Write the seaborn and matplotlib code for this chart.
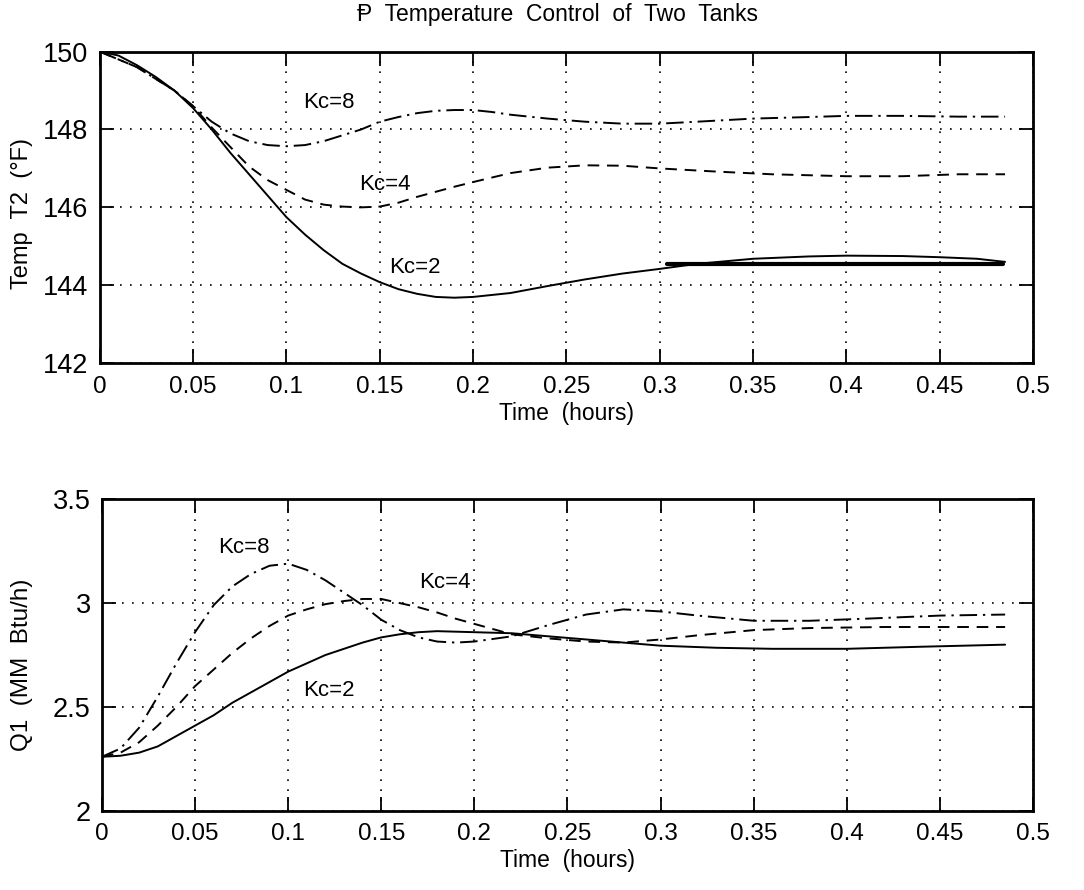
import numpy as np
import pandas as pd
import matplotlib
matplotlib.use("Agg")
import matplotlib.pyplot as plt
import seaborn as sns

# ---- data ----
# top panel: Temp T2 (F) vs time (hours)
t2_kc2_t = [0, 0.01, 0.02, 0.03, 0.04, 0.05, 0.06, 0.07, 0.08, 0.09, 0.10, 0.11, 0.12, 0.13,
            0.14, 0.15, 0.16, 0.17, 0.18, 0.19, 0.20, 0.22, 0.24, 0.26, 0.28, 0.30, 0.32,
            0.35, 0.38, 0.40, 0.43, 0.45, 0.47, 0.485]
t2_kc2 = [150.0, 149.9, 149.65, 149.35, 149.0, 148.55, 148.0, 147.4, 146.85, 146.3, 145.75,
          145.3, 144.9, 144.55, 144.3, 144.08, 143.9, 143.78, 143.7, 143.68, 143.7, 143.8,
          143.98, 144.15, 144.3, 144.42, 144.55, 144.68, 144.74, 144.76, 144.75, 144.72,
          144.68, 144.6]

t2_kc4_t = [0, 0.02, 0.04, 0.05, 0.06, 0.07, 0.08, 0.09, 0.10, 0.11, 0.12, 0.13, 0.14, 0.15,
            0.16, 0.17, 0.18, 0.19, 0.20, 0.22, 0.24, 0.26, 0.28, 0.30, 0.33, 0.36, 0.40,
            0.43, 0.46, 0.485]
t2_kc4 = [150.0, 149.6, 149.0, 148.6, 148.05, 147.55, 147.05, 146.7, 146.45, 146.2, 146.07,
          146.02, 146.0, 146.02, 146.12, 146.27, 146.4, 146.53, 146.65, 146.88, 147.02,
          147.08, 147.07, 147.0, 146.92, 146.85, 146.8, 146.8, 146.85, 146.85]

t2_kc8_t = [0, 0.02, 0.04, 0.05, 0.06, 0.07, 0.08, 0.09, 0.10, 0.11, 0.12, 0.13, 0.14, 0.15,
            0.16, 0.17, 0.18, 0.19, 0.20, 0.21, 0.22, 0.24, 0.26, 0.28, 0.30, 0.32, 0.35,
            0.38, 0.40, 0.43, 0.46, 0.485]
t2_kc8 = [150.0, 149.6, 149.0, 148.6, 148.2, 147.9, 147.7, 147.6, 147.57, 147.6, 147.7,
          147.85, 148.0, 148.2, 148.32, 148.42, 148.48, 148.5, 148.5, 148.45, 148.38,
          148.28, 148.2, 148.15, 148.15, 148.2, 148.28, 148.32, 148.35, 148.35, 148.33,
          148.33]

# stray straight strokes visible in the scan
t2_top_stroke_t = [0, 0.174]
t2_top_stroke = [150.0, 150.0]
t2_ss_stroke_t = [0.304, 0.484]
t2_ss_stroke = [144.55, 144.55]

# bottom panel: Q1 (MM Btu/h) vs time (hours)
q1_kc2_t = [0, 0.01, 0.02, 0.03, 0.04, 0.05, 0.06, 0.07, 0.08, 0.09, 0.10, 0.11, 0.12, 0.13,
            0.14, 0.15, 0.16, 0.17, 0.18, 0.20, 0.22, 0.24, 0.26, 0.28, 0.30, 0.33, 0.36,
            0.40, 0.44, 0.485]
q1_kc2 = [2.26, 2.265, 2.28, 2.31, 2.36, 2.41, 2.46, 2.52, 2.57, 2.62, 2.67, 2.71, 2.75,
          2.78, 2.81, 2.835, 2.85, 2.86, 2.865, 2.86, 2.855, 2.84, 2.825, 2.81, 2.795,
          2.785, 2.78, 2.78, 2.79, 2.80]

q1_kc4_t = [0, 0.01, 0.02, 0.03, 0.04, 0.05, 0.06, 0.07, 0.08, 0.09, 0.10, 0.11, 0.12, 0.13,
            0.14, 0.15, 0.16, 0.17, 0.18, 0.19, 0.20, 0.21, 0.22, 0.24, 0.26, 0.28, 0.30,
            0.32, 0.35, 0.38, 0.42, 0.485]
q1_kc4 = [2.26, 2.28, 2.33, 2.41, 2.5, 2.6, 2.68, 2.76, 2.83, 2.89, 2.94, 2.97, 2.995, 3.01,
          3.02, 3.02, 3.0, 2.98, 2.955, 2.925, 2.9, 2.875, 2.85, 2.83, 2.815, 2.81, 2.825,
          2.845, 2.87, 2.88, 2.885, 2.885]

q1_kc8_t = [0, 0.01, 0.02, 0.03, 0.04, 0.05, 0.06, 0.07, 0.08, 0.09, 0.10, 0.11, 0.12, 0.13,
            0.14, 0.15, 0.16, 0.17, 0.18, 0.19, 0.20, 0.22, 0.24, 0.26, 0.28, 0.30, 0.32,
            0.35, 0.38, 0.41, 0.45, 0.485]
q1_kc8 = [2.26, 2.3, 2.4, 2.55, 2.71, 2.86, 2.99, 3.08, 3.14, 3.18, 3.19, 3.16, 3.11, 3.05,
          2.99, 2.92, 2.87, 2.835, 2.815, 2.81, 2.815, 2.84, 2.895, 2.945, 2.97, 2.96, 2.94,
          2.915, 2.915, 2.925, 2.94, 2.945]

x_ticks = [0, 0.05, 0.1, 0.15, 0.2, 0.25, 0.3, 0.35, 0.4, 0.45, 0.5]
x_ticklabels = ["0", "0.05", "0.1", "0.15", "0.2", "0.25", "0.3", "0.35", "0.4", "0.45", "0.5"]
t2_ticks = [142, 144, 146, 148, 150]
q1_ticks = [2, 2.5, 3, 3.5]
q1_ticklabels = ["2", "2.5", "3", "3.5"]

# label text and where it sits (data coords)
t2_labels = [("Kc=8", 0.123, 148.7), ("Kc=4", 0.153, 146.6), ("Kc=2", 0.169, 144.45)]
q1_labels = [("Kc=8", 0.076, 3.27), ("Kc=4", 0.184, 3.10), ("Kc=2", 0.122, 2.58)]

# ---- style ----
sns.set_style("ticks")
plt.rcParams["font.family"] = ["Liberation Sans", "DejaVu Sans"]
plt.rcParams["text.color"] = "black"
plt.rcParams["axes.labelcolor"] = "black"

DASH = (0, (6, 4))
DASHDOT = (0, (9, 3, 1.2, 3))
GRID = (0, (1, 5))


def _series(ax, t, y, ls, lw=1.4):
    df = pd.DataFrame({"t": t, "y": y})
    sns.lineplot(data=df, x="t", y="y", ax=ax, color="black", linestyle=ls,
                 linewidth=lw, sort=False, estimator=None)


def _frame(ax, ylim, yticks, ytl=None):
    ax.set_xlim(0, 0.5)
    ax.set_ylim(*ylim)
    ax.set_xticks(x_ticks)
    ax.set_xticklabels(x_ticklabels)
    ax.set_yticks(yticks)
    if ytl is not None:
        ax.set_yticklabels(ytl)
    ax.grid(True, linestyle=GRID, color="black", linewidth=1.2)
    ax.tick_params(direction="in", length=10, width=1.3, top=True, right=True,
                   pad=9, colors="black")
    ax.tick_params(axis="x", labelsize=17.5)
    ax.tick_params(axis="y", labelsize=19.5, pad=8)
    for s in ax.spines.values():
        s.set_visible(True)
        s.set_linewidth(2.0)
        s.set_color("black")
    ax.set_xlabel("Time  (hours)", fontsize=16.5, labelpad=3)


fig = plt.figure(figsize=(10.84, 8.9), dpi=100)
ax1 = fig.add_axes([0.092, 0.592, 0.861, 0.350])
ax2 = fig.add_axes([0.094, 0.089, 0.859, 0.350])

# top panel
_series(ax1, t2_kc2_t, t2_kc2, "-")
_series(ax1, t2_kc4_t, t2_kc4, DASH)
_series(ax1, t2_kc8_t, t2_kc8, DASHDOT)
_series(ax1, t2_top_stroke_t, t2_top_stroke, "-", lw=1.6)
_series(ax1, t2_ss_stroke_t, t2_ss_stroke, "-", lw=3.0)
_frame(ax1, (142, 150), t2_ticks)
ax1.set_ylabel("Temp  T2  (°F)", fontsize=17)
ax1.yaxis.set_label_coords(-0.072, 0.48)
for txt, x, y in t2_labels:
    ax1.text(x, y, txt, fontsize=16, ha="center", va="center")

# bottom panel
_series(ax2, q1_kc2_t, q1_kc2, "-")
_series(ax2, q1_kc4_t, q1_kc4, DASH)
_series(ax2, q1_kc8_t, q1_kc8, DASHDOT)
_frame(ax2, (2, 3.5), q1_ticks, q1_ticklabels)
ax2.set_ylabel("Q1  (MM  Btu/h)", fontsize=17.5)
ax2.yaxis.set_label_coords(-0.074, 0.47)
for txt, x, y in q1_labels:
    ax2.text(x, y, txt, fontsize=16, ha="center", va="center")

fig.text(0.514, 0.984, "Ᵽ  Temperature  Control  of  Two  Tanks", fontsize=16.5,
         ha="center", va="center")

fig.savefig("out.png", dpi=100)
plt.close(fig)
